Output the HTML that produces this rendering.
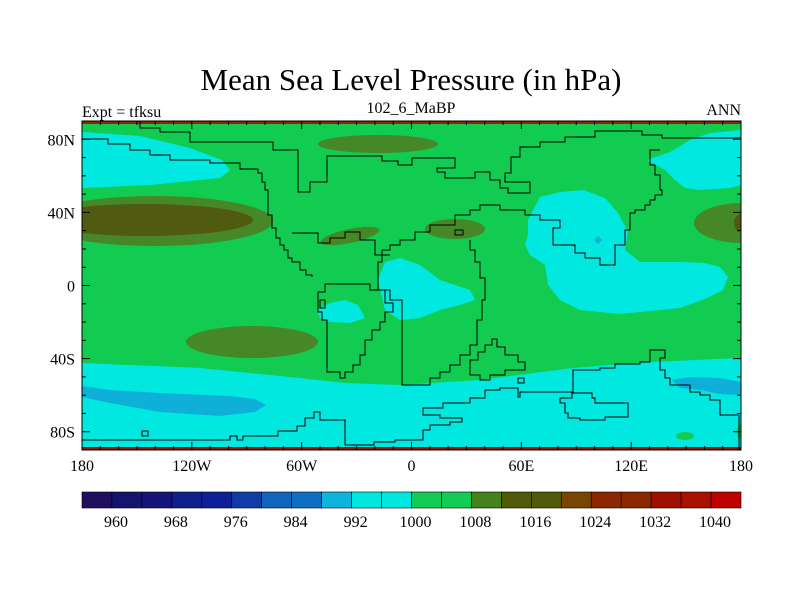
<!DOCTYPE html>
<html><head><meta charset="utf-8"><style>
html,body{margin:0;padding:0;background:#fff;}
svg{display:block;font-family:"Liberation Serif",serif;}
</style></head><body>
<svg id="chart" width="800" height="600" viewBox="0 0 800 600">
<text x="411" y="90" font-size="31" text-anchor="middle">Mean Sea Level Pressure (in hPa)</text>
<text x="82" y="117" font-size="16">Expt = tfksu</text>
<text x="411" y="113" font-size="16" text-anchor="middle">102_6_MaBP</text>
<text x="741" y="115" font-size="16" text-anchor="end">ANN</text>
<defs><clipPath id="pc"><rect x="82" y="121" width="659" height="329"/></clipPath></defs>
<g clip-path="url(#pc)">
<rect x="82" y="121" width="659" height="329" fill="#12cc52"/>
<polygon fill="#00e8e0" points="82,132 140,136 190,148 222,160 230,170 220,178 150,185 82,188"/>
<polygon fill="#00e8e0" points="647,160 670,152 690,140 710,133 741,130 741,185 730,188 700,190 685,188 675,180 665,170"/>
<ellipse cx="378" cy="144" rx="60" ry="9" fill="#468828"/>
<ellipse cx="155" cy="221" rx="118" ry="25" fill="#468828"/>
<ellipse cx="145" cy="220" rx="108" ry="16" fill="#505a10"/>
<ellipse cx="350" cy="236" rx="30" ry="7" fill="#468828" transform="rotate(-12 350 236)"/>
<ellipse cx="455" cy="229" rx="30" ry="10" fill="#468828"/>
<ellipse cx="742" cy="223" rx="48" ry="20" fill="#468828"/>
<ellipse cx="742" cy="223" rx="8" ry="9" fill="#505a10"/>
<polygon fill="#00e8e0" points="378,280 385,262 400,258 420,265 440,280 470,290 475,300 460,305 440,310 420,318 400,320 385,310"/>
<polygon fill="#00e8e0" points="317,310 330,303 345,300 358,305 365,318 350,323 330,322 320,318"/>
<polygon fill="#00e8e0" points="528,220 540,197 560,192 583,190 605,198 618,213 628,232 625,250 640,262 680,262 705,263 720,267 728,277 723,290 705,299 680,308 620,314 580,310 560,300 548,285 545,265 530,255 525,245 528,235"/>
<polygon fill="#0fb0d8" points="594,240 598,236 602,240 598,244"/>
<polygon fill="#00e8e0" points="82,363 200,368 300,378 345,383 400,385 480,380 573,368 650,362 741,358 741,450 82,450"/>
<polygon fill="#0fb0d8" points="82,386 110,390 160,393 230,396 255,399 266,405 255,412 220,416 160,412 110,403 82,397"/>
<polygon fill="#0fb0d8" points="672,380 690,377 720,378 741,382 741,395 720,394 700,390 680,388"/>
<ellipse cx="252" cy="342" rx="66" ry="16" fill="#468828"/>
<ellipse cx="685" cy="436" rx="9" ry="4" fill="#12cc52"/>
<ellipse cx="741" cy="432" rx="4" ry="8" fill="#12cc52"/>
<rect x="82" y="121" width="659" height="3" fill="#8c2800"/>
<rect x="82" y="447" width="659" height="3" fill="#a01000"/>
</g>
<g fill="none" stroke="#000" stroke-width="1" clip-path="url(#pc)">
<path d="M82,139 H108 V144 H130 V150 H150 V155 H170 V160 H210 V163 H240 V169 H258 V173 H262 V182 H265 V190 H268 V215 H272 V228 H276 V238 H280 V245 H284 V250 H288 V258 H292 V262 H300 V270 H306 V275 H312 V277"/>
<path d="M140,121 V128 H160 V132 H190 V142 H273 V150 H298 V192 H310 V182 H327 V156 H382 V161 H398 V165 H412 V158 H455 V168 H437 V172 H445 V178 H475 V172 H490 V180 H500 V188 H508 V193 H530 V182 H505 V173 H511 V157 H520 V147 H540 V142 H565 V137 H595 V131 H642 V135 H662 V138 H741"/>
<path d="M660,150 H650 V165 H655 V175 H660 V190 H662 V195 H655 V200 H650 V205 H645 V210 H635 V213 H630 V230 H625 V245 H615 V265 H600 V258 H585 V253 H575 V245 H553 V228 H560 V220 H540 V215 H525 V210 H500 V205 H480 V210 H470 V215 H455 V225 H430 V232 H415 V240 H400 V245 H390 V250 H382 V262 H378 V290 H390 V300 H402 V385 H430 V378 H440 V372 H450 V365 H460 V355 H470 V345 H477 V320 H482 V300 H485 V278 H480 V262 H475 V250 H470 V240"/>
<path d="M292,233 H318 V243 H330 V238 H345 V232 H360 V240 H375 V255 H390"/>
<path d="M325,284 V292 H318 V312 H322 V320 H327 V372 H340 V378 H345 V372 H353 V365 H360 V355 H365 V340 H372 V330 H380 V322 H385 V312 H393 V303 H385 V290 H370 V284 Z"/>
<path d="M320,300 H325 V308 H320 Z"/>
<path d="M82,440 H230 V436 H237 V440 H243 V436 H278 V431 H297 V426 H305 V418 H314 V412 H320 V420 H345 V426 H345 V445 H374 V442 H395 V440 H423 V430 H430 V425 H450 V422 H462 V418 H440 V415 H423 V408 H443 V403 H470 V398 H485 V390 H500 V388 H518 V397 H520 V392 H573 V370 H600 V368 H615 V364 H640 V362 H650 V350 H665 V358 H660 V370 H665 V378 H670 V385 H690 V392 H700 V395 H710 V400 H720 V415 H739 V450"/>
<path d="M565,403 H560 V398 H572 V393 H592 V398 H595 V403 H628 V417 H605 V420 H580 V418 H568 V413 H565 Z"/>
<path d="M470,360 H478 V352 H485 V345 H492 V339 H497 V347 H505 V355 H518 V362 H525 V370 H505 V375 H490 V380 H480 V375 H470 Z"/>
<path d="M142,431 H148 V436 H142 Z"/>
<path d="M518,378 H524 V383 H518 Z"/>
<path d="M455,230 H463 V235 H455 Z"/>
</g>
<rect x="82" y="121" width="659" height="329" fill="none" stroke="#000" stroke-width="1"/>
<g id="ticks" stroke="#000" stroke-width="1"></g>
<g id="xlabels" font-size="16" text-anchor="middle"></g>
<g id="ylabels" font-size="16" text-anchor="end"></g>
<g id="colorbar"></g>
<g id="cblabels" font-size="16" text-anchor="middle"></g>
</svg>
<script>
const lonTicks = [-180, -120, -60, 0, 60, 120, 180];
const lonLabels = ["180", "120W", "60W", "0", "60E", "120E", "180"];
const latTicks = [80, 40, 0, -40, -80];
const latLabels = ["80N", "40N", "0", "40S", "80S"];
const levels = [960,964,968,972,976,980,984,988,992,996,1000,1004,1008,1012,1016,1020,1024,1028,1032,1036,1040];
const levelColors = ["#1f0f5e","#14146e","#141478","#0f1f8c","#0f1f96","#0f3ca5","#0f64be","#0f6ec3","#0fb4dc","#00e6e1","#00e6e1","#11cc55","#11cc55","#46821e","#505a0a","#505a0a","#784600","#8c2800","#8c2800","#a01000","#aa1000","#c00000"];
const NS = "http://www.w3.org/2000/svg";
const X0 = 82, X1 = 741, Y0 = 121, Y1 = 450;
const xs = lon => X0 + (lon + 180) / 360 * (X1 - X0);
const ys = lat => Y0 + (90 - lat) / 180 * (Y1 - Y0);
const tg = document.getElementById('ticks');
function line(x1,y1,x2,y2){const l=document.createElementNS(NS,'line');l.setAttribute('x1',x1);l.setAttribute('y1',y1);l.setAttribute('x2',x2);l.setAttribute('y2',y2);


tg.appendChild(l);}
for(let lon=-180;lon<=180;lon+=10){const major=lon%60===0;const L=major?8:4;const x=xs(lon);line(x,Y1,x,Y1-L);line(x,Y0,x,Y0+L);}
for(let lat=-90;lat<=90;lat+=10){const major=lat%40===0;const L=major?8:4;const y=ys(lat);line(X0,y,X0+L,y);line(X1,y,X1-L,y);}
const xl=document.getElementById('xlabels');
lonTicks.forEach((v,i)=>{const t=document.createElementNS(NS,'text');t.setAttribute('x',xs(v));t.setAttribute('y',471);t.textContent=lonLabels[i];


xl.appendChild(t);});
const yl=document.getElementById('ylabels');
latTicks.forEach((v,i)=>{const t=document.createElementNS(NS,'text');t.setAttribute('x',75);t.setAttribute('y',ys(v)+6);t.textContent=latLabels[i];


yl.appendChild(t);});
const cb=document.getElementById('colorbar'), cbl=document.getElementById('cblabels');
const n=levelColors.length, bw=(X1-X0)/n;
levelColors.forEach((c,i)=>{const r=document.createElementNS(NS,'rect');r.setAttribute('x',X0+i*bw);r.setAttribute('y',492);r.setAttribute('width',bw);r.setAttribute('height',16);r.setAttribute('fill',c);r.setAttribute('stroke','#000');r.setAttribute('stroke-width','0.6');


cb.appendChild(r);});
levels.forEach((v,i)=>{if(i%2)return;const t=document.createElementNS(NS,'text');t.setAttribute('x',X0+(i+1)*bw+4);t.setAttribute('y',527);t.textContent=v;


cbl.appendChild(t);});
</script>
</body></html>
